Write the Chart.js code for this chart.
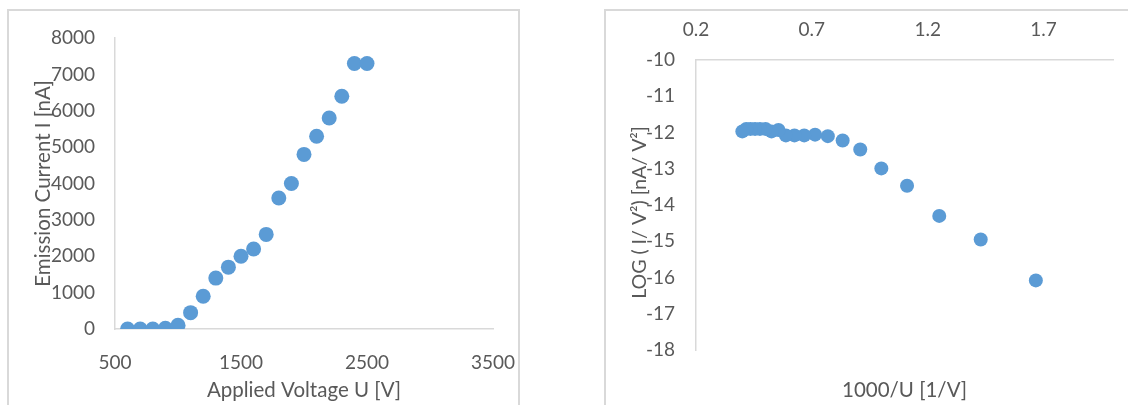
<!DOCTYPE html>
<html>
<head>
<meta charset="utf-8">
<script src="https://cdn.jsdelivr.net/npm/chart.js@4.4.1/dist/chart.umd.min.js"></script>
<style>
body { margin: 0; background: #fff; width: 1128px; height: 405px; overflow: hidden; position: relative; }
.box { position: absolute; border: 2px solid #d9d9d9; background: #fff; }
#boxLeft { left: 7px; top: 9px; width: 509px; height: 420px; }
#boxRight { left: 604px; top: 9px; width: 560px; height: 420px; }
.box canvas { position: absolute; left: 0; top: 0; }
</style>
</head>
<body>
<div class="box" id="boxLeft"><canvas id="ivChart" width="509" height="394"></canvas></div>
<div class="box" id="boxRight"><canvas id="fnChart" width="522" height="394"></canvas></div>
<script>
// applied voltage steps and measured emission current
var voltage = [600, 700, 800, 900, 1000, 1100, 1200, 1300, 1400, 1500, 1600, 1700, 1800, 1900, 2000, 2100, 2200, 2300, 2400, 2500];
var current = [0, 0, 0, 20, 100, 450, 900, 1400, 1700, 2000, 2200, 2600, 3600, 4000, 4800, 5300, 5800, 6400, 7300, 7300];

// Fowler-Nordheim plot: 1000/U against LOG(I/V^2)
var invU = [1.667, 1.429, 1.25, 1.111, 1.0, 0.909, 0.833, 0.769, 0.714, 0.667, 0.625, 0.588, 0.556, 0.526, 0.5, 0.476, 0.455, 0.435, 0.417, 0.4];
var logIV = [-16.08, -14.95, -14.30, -13.47, -12.99, -12.47, -12.22, -12.10, -12.06, -12.08, -12.08, -12.08, -11.93, -11.97, -11.90, -11.90, -11.90, -11.90, -11.90, -11.97];

var voltTicks = [500, 1500, 2500, 3500];
var invTicks = [0.2, 0.7, 1.2, 1.7];

var textColor = '#595959';
var lineColor = '#d9d9d9';
var dotColor = '#5b9bd5';
var fontFamily = 'Lato, "Open Sans", sans-serif';

function toPoints(xs, ys) {
	var pts = [];
	for (var i = 0; i < xs.length; i++) {
		pts.push({x: xs[i], y: ys[i]});
	}
	return pts;
}

function fixedTicks(list) {
	return function(scale) {
		scale.ticks = list.map(function(v) { return {value: v}; });
	};
}

// fixed scale size; label overflow padding is left to layout.padding
function fixSize(w, h) {
	return function(scale) {
		if (w !== null) scale.width = w;
		if (h !== null) scale.height = h;
		scale.paddingLeft = 0;
		scale.paddingRight = 0;
		scale.paddingTop = 0;
		scale.paddingBottom = 0;
	};
}

function plainLabel(v) {
	return String(v);
}

var tickFont = {family: fontFamily, size: 19};
var titleFont = {family: fontFamily, size: 20.5};

// I-U curve
new Chart(document.getElementById('ivChart').getContext('2d'), {
	type: 'scatter',
	data: {
		datasets: [{
			data: toPoints(voltage, current),
			backgroundColor: dotColor,
			borderWidth: 0,
			pointRadius: 7.5,
			pointHoverRadius: 7.5
		}]
	},
	options: {
		responsive: false,
		animation: false,
		events: [],
		layout: {padding: {left: 0, top: 27, right: 25, bottom: 0}},
		plugins: {legend: {display: false}, tooltip: {enabled: false}},
		scales: {
			x: {
				type: 'linear',
				position: 'bottom',
				min: 500,
				max: 3500,
				afterBuildTicks: fixedTicks(voltTicks),
				afterFit: fixSize(null, 76),
				grid: {display: false, drawTicks: false},
				border: {display: true, color: lineColor, width: 1.5},
				ticks: {color: textColor, font: tickFont, padding: 22, maxRotation: 0, callback: plainLabel},
				title: {display: true, text: 'Applied Voltage U [V]', color: textColor, font: titleFont, padding: {top: 0, bottom: 2}}
			},
			y: {
				type: 'linear',
				min: 0,
				max: 8000,
				afterFit: fixSize(106, null),
				grid: {display: false, drawTicks: false},
				border: {display: true, color: lineColor, width: 1.5},
				ticks: {color: textColor, font: tickFont, padding: 20, stepSize: 1000, callback: plainLabel},
				title: {display: true, text: 'Emission Current I [nA]', color: textColor, font: titleFont, padding: {top: 22, bottom: 0}}
			}
		}
	}
});

// F-N plot, value axis labels on top, title kept below the plot
new Chart(document.getElementById('fnChart').getContext('2d'), {
	type: 'scatter',
	data: {
		datasets: [{
			data: toPoints(invU, logIV),
			backgroundColor: dotColor,
			borderWidth: 0,
			pointRadius: 7,
			pointHoverRadius: 7
		}]
	},
	options: {
		responsive: false,
		animation: false,
		events: [],
		layout: {padding: {left: 0, top: 0, right: 15, bottom: 0}},
		plugins: {legend: {display: false}, tooltip: {enabled: false}},
		scales: {
			x: {
				type: 'linear',
				position: 'top',
				min: 0.2,
				max: 2.0,
				afterBuildTicks: fixedTicks(invTicks),
				afterFit: fixSize(null, 49),
				grid: {display: false, drawTicks: false},
				border: {display: true, color: lineColor, width: 1.5},
				ticks: {color: textColor, font: tickFont, padding: 19, maxRotation: 0, callback: plainLabel}
			},
			xTitle: {
				type: 'linear',
				position: 'bottom',
				min: 0.2,
				max: 2.0,
				afterFit: fixSize(null, 55),
				grid: {display: false, drawTicks: false},
				border: {display: false},
				ticks: {display: false},
				title: {display: true, text: '1000/U [1/V]', color: textColor, font: titleFont, padding: {top: 0, bottom: 2}}
			},
			y: {
				type: 'linear',
				min: -18,
				max: -10,
				afterFit: fixSize(90, null),
				grid: {display: false, drawTicks: false},
				border: {display: true, color: lineColor, width: 1.5},
				ticks: {color: textColor, font: tickFont, padding: 21, stepSize: 1, callback: plainLabel},
				title: {display: true, text: 'LOG ( I/ V\u00b2) [nA/ V\u00b2]   ', color: textColor, font: {family: fontFamily, size: 19.5}, padding: {top: 22, bottom: 0}}
			}
		}
	}
});
</script>
</body>
</html>
